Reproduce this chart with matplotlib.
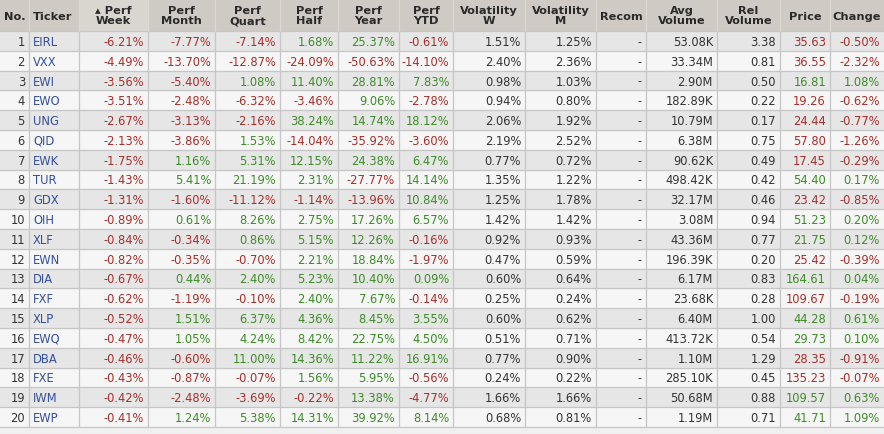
import matplotlib
matplotlib.use("Agg")
import matplotlib.pyplot as plt
import matplotlib.patches as patches

W, H = 884, 435

# ---- table data ----
headers = ["No.", "Ticker", "\u25B4 Perf\nWeek", "Perf\nMonth", "Perf\nQuart", "Perf\nHalf",
           "Perf\nYear", "Perf\nYTD", "Volatility\nW", "Volatility\nM", "Recom",
           "Avg\nVolume", "Rel\nVolume", "Price", "Change"]
tickers = ["EIRL", "VXX", "EWI", "EWO", "UNG", "QID", "EWK", "TUR", "GDX", "OIH",
           "XLF", "EWN", "DIA", "FXF", "XLP", "EWQ", "DBA", "FXE", "IWM", "EWP"]
perf_week = [-6.21, -4.49, -3.56, -3.51, -2.67, -2.13, -1.75, -1.43, -1.31, -0.89,
             -0.84, -0.82, -0.67, -0.62, -0.52, -0.47, -0.46, -0.43, -0.42, -0.41]
perf_month = [-7.77, -13.70, -5.40, -2.48, -3.13, -3.86, 1.16, 5.41, -1.60, 0.61,
              -0.34, -0.35, 0.44, -1.19, 1.51, 1.05, -0.60, -0.87, -2.48, 1.24]
perf_quart = [-7.14, -12.87, 1.08, -6.32, -2.16, 1.53, 5.31, 21.19, -11.12, 8.26,
              0.86, -0.70, 2.40, -0.10, 6.37, 4.24, 11.00, -0.07, -3.69, 5.38]
perf_half = [1.68, -24.09, 11.40, -3.46, 38.24, -14.04, 12.15, 2.31, -1.14, 2.75,
             5.15, 2.21, 5.23, 2.40, 4.36, 8.42, 14.36, 1.56, -0.22, 14.31]
perf_year = [25.37, -50.63, 28.81, 9.06, 14.74, -35.92, 24.38, -27.77, -13.96, 17.26,
             12.26, 18.84, 10.40, 7.67, 8.45, 22.75, 11.22, 5.95, 13.38, 39.92]
perf_ytd = [-0.61, -14.10, 7.83, -2.78, 18.12, -3.60, 6.47, 14.14, 10.84, 6.57,
            -0.16, -1.97, 0.09, -0.14, 3.55, 4.50, 16.91, -0.56, -4.77, 8.14]
vol_w = [1.51, 2.40, 0.98, 0.94, 2.06, 2.19, 0.77, 1.35, 1.25, 1.42,
         0.92, 0.47, 0.60, 0.25, 0.60, 0.51, 0.77, 0.24, 1.66, 0.68]
vol_m = [1.25, 2.36, 1.03, 0.80, 1.92, 2.52, 0.72, 1.22, 1.78, 1.42,
         0.93, 0.59, 0.64, 0.24, 0.62, 0.71, 0.90, 0.22, 1.66, 0.81]
avg_volume = ["53.08K", "33.34M", "2.90M", "182.89K", "10.79M", "6.38M", "90.62K",
              "498.42K", "32.17M", "3.08M", "43.36M", "196.39K", "6.17M", "23.68K",
              "6.40M", "413.72K", "1.10M", "285.10K", "50.68M", "1.19M"]
rel_volume = [3.38, 0.81, 0.50, 0.22, 0.17, 0.75, 0.49, 0.42, 0.46, 0.94,
              0.77, 0.20, 0.83, 0.28, 1.00, 0.54, 1.29, 0.45, 0.88, 0.71]
price = [35.63, 36.55, 16.81, 19.26, 24.44, 57.80, 17.45, 54.40, 23.42, 51.23,
         21.75, 25.42, 164.61, 109.67, 44.28, 29.73, 28.35, 135.23, 109.57, 41.71]
change = [-0.50, -2.32, 1.08, -0.62, -0.77, -1.26, -0.29, 0.17, -0.85, 0.20,
          0.12, -0.39, 0.04, -0.19, 0.61, 0.10, -0.91, -0.07, 0.63, 1.09]

# ---- layout ----
col_edges = [0, 29, 79, 148, 215, 280, 338, 399, 453, 525, 596, 646, 717, 780, 830, 884]
header_h = 32
row_h = 19.8
fs = 8.3
hfs = 8.2

RED = "#A52F2A"
GREEN = "#3C8C26"
BLUE = "#34509A"
DARK = "#333333"
GRID = "#C6C6C6"


def sign_color(v):
    return RED if v < 0 else GREEN


fig = plt.figure(figsize=(W / 100, H / 100), dpi=100)
fig.patch.set_facecolor("#F0F0F0")
ax = fig.add_axes([0, 0, 1, 1])
ax.set_xlim(0, W)
ax.set_ylim(H, 0)
ax.axis("off")

n_rows = len(tickers)
table_bottom = header_h + n_rows * row_h

# header
for c, label in enumerate(headers):
    x0, x1 = col_edges[c], col_edges[c + 1]
    fc = "#D9D6D0" if c == 2 else "#CFCBC4"
    ax.add_patch(patches.Rectangle((x0, 0), x1 - x0, header_h, facecolor=fc,
                                   edgecolor="none"))
    if c < 2:
        ha, tx = ("right", x1 - 3) if c == 0 else ("left", x0 + 4)
    else:
        ha, tx = "center", (x0 + x1) / 2
    ax.text(tx, header_h / 2 + 0.5, label, ha=ha, va="center", fontsize=hfs,
            fontweight="bold", color="#2A2A2A", linespacing=1.0)

# body rows
for r in range(n_rows):
    y0 = header_h + r * row_h
    fc = "#E6E6E6" if r % 2 == 0 else "#F6F6F6"
    ax.add_patch(patches.Rectangle((0, y0), W, row_h, facecolor=fc, edgecolor="none"))
    yc = y0 + row_h / 2 + 0.5

    cells = [
        (str(r + 1), DARK),
        (tickers[r], BLUE),
        (f"{perf_week[r]:.2f}%", sign_color(perf_week[r])),
        (f"{perf_month[r]:.2f}%", sign_color(perf_month[r])),
        (f"{perf_quart[r]:.2f}%", sign_color(perf_quart[r])),
        (f"{perf_half[r]:.2f}%", sign_color(perf_half[r])),
        (f"{perf_year[r]:.2f}%", sign_color(perf_year[r])),
        (f"{perf_ytd[r]:.2f}%", sign_color(perf_ytd[r])),
        (f"{vol_w[r]:.2f}%", DARK),
        (f"{vol_m[r]:.2f}%", DARK),
        ("-", DARK),
        (avg_volume[r], DARK),
        (f"{rel_volume[r]:.2f}", DARK),
        (f"{price[r]:.2f}", sign_color(change[r])),
        (f"{change[r]:.2f}%", sign_color(change[r])),
    ]
    for c, (txt, col) in enumerate(cells):
        x0, x1 = col_edges[c], col_edges[c + 1]
        if c == 1:
            ax.text(x0 + 4, yc, txt, ha="left", va="center", fontsize=fs, color=col)
        else:
            ax.text(x1 - 4, yc, txt, ha="right", va="center", fontsize=fs, color=col)

# grid lines
for r in range(n_rows + 1):
    y = header_h + r * row_h
    ax.plot([0, W], [y, y], color=GRID, lw=0.9)
for x in col_edges[1:-1]:
    ax.plot([x, x], [header_h, table_bottom], color=GRID, lw=0.9)
for x in col_edges[1:-1]:
    ax.plot([x, x], [0, header_h], color="#DCD9D3", lw=0.9)

fig.savefig("out.png", dpi=100, facecolor=fig.get_facecolor())
